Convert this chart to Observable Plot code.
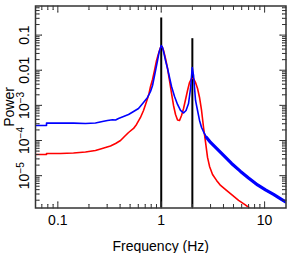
<!DOCTYPE html>
<html><head><meta charset="utf-8">
<script src="https://cdn.jsdelivr.net/npm/d3@7"></script>
<script src="https://cdn.jsdelivr.net/npm/@observablehq/plot@0.6"></script>
<style>html,body{margin:0;padding:0;background:#fff;} svg{display:block;}</style>
</head><body><div id="chart"></div>
<script>
const blueFreq = [0.0608, 0.0777, 0.0777, 0.0949, 0.1417, 0.185, 0.231, 0.270, 0.302, 0.338, 0.362, 0.386, 0.432, 0.483, 0.540, 0.603, 0.674, 0.737, 0.788, 0.824, 0.881, 0.921, 0.952, 1.0, 1.029, 1.064, 1.100, 1.151, 1.203, 1.258, 1.345, 1.438, 1.537, 1.644, 1.738, 1.837, 1.921, 1.995, 2.054, 2.147, 2.245, 2.347, 2.455, 2.584, 2.744, 3.0, 3.43, 4.01, 4.79, 5.85, 6.99, 8.55, 10.2, 12.2, 14.3, 16.1];
const bluePower = [2.68e-4, 2.68e-4, 3.12e-4, 3.12e-4, 3.12e-4, 3.05e-4, 3.15e-4, 3.48e-4, 3.72e-4, 3.89e-4, 3.84e-4, 4.24e-4, 4.83e-4, 5.51e-4, 6.7e-4, 8.16e-4, 1.21e-3, 1.68e-3, 2.48e-3, 3.68e-3, 9.84e-3, 0.0189, 0.032, 0.0506, 0.0444, 0.030, 0.0189, 0.0112, 6.22e-3, 3.45e-3, 1.79e-3, 1.06e-3, 7.16e-4, 6.08e-4, 7.16e-4, 1.13e-3, 3.03e-3, 0.01197, 7.1e-3, 1.38e-3, 7.16e-4, 3.72e-4, 2.35e-4, 1.69e-4, 1.22e-4, 8.8e-5, 5.94e-5, 3.76e-5, 2.22e-5, 1.32e-5, 8.6e-6, 5.43e-6, 3.92e-6, 2.92e-6, 2.17e-6, 1.75e-6];

const redFreq = [0.0608, 0.0777, 0.0777, 0.106, 0.1417, 0.185, 0.231, 0.259, 0.289, 0.323, 0.362, 0.404, 0.441, 0.483, 0.540, 0.577, 0.630, 0.674, 0.705, 0.737, 0.762, 0.788, 0.824, 0.861, 0.901, 0.942, 0.984, 1.018, 1.053, 1.100, 1.151, 1.203, 1.258, 1.315, 1.375, 1.438, 1.503, 1.572, 1.644, 1.719, 1.797, 1.878, 1.964, 2.054, 2.147, 2.245, 2.347, 2.455, 2.566, 2.684, 2.805, 2.934, 3.136, 3.43, 3.75, 4.28, 4.90, 5.60, 6.40, 7.15, 7.64];
const redPower = [4.01e-5, 4.01e-5, 4.28e-5, 4.28e-5, 4.42e-5, 4.72e-5, 5.21e-5, 5.75e-5, 6.34e-5, 7.0e-5, 8.24e-5, 1.0e-4, 1.30e-4, 1.69e-4, 2.2e-4, 2.86e-4, 4.53e-4, 7.16e-4, 1.06e-3, 1.57e-3, 2.18e-3, 3.45e-3, 5.46e-3, 9.84e-3, 0.0189, 0.030, 0.0444, 0.0474, 0.0365, 0.0216, 0.0112, 5.1e-3, 2.18e-3, 9.93e-4, 5.51e-4, 3.85e-4, 3.72e-4, 5.16e-4, 8.16e-4, 1.47e-3, 2.65e-3, 4.48e-3, 5.82e-3, 5.82e-3, 4.48e-3, 3.03e-3, 1.68e-3, 7.16e-4, 2.35e-4, 8.8e-5, 3.3e-5, 1.83e-5, 1.08e-5, 7.31e-6, 5.26e-6, 3.79e-6, 2.73e-6, 1.97e-6, 1.52e-6, 1.2e-6, 1.02e-6];

const lineFreq = [1, 2];
const linePower = [0.307, 0.079];

const xTickValues = [0.1, 1, 10];
const xTickLabels = ["0.1", "1", "10"];
const yTickValues = [0.1, 0.01, 1e-3, 1e-4, 1e-5];
const yTickLabels = ["0.1", "0.01", "10^-3", "10^-4", "10^-5"];
const xLabel = "Frequency (Hz)";
const yLabel = "Power";

const xDomain = [0.0608, 16.1];
const yDomain = [1.2e-6, 0.673];

// minor tick positions (axis decoration)
const mult = [2, 3, 4, 5, 6, 7, 8, 9];
const xMinor = [];
for (const d of [0.01, 0.1, 1, 10]) for (const m of mult) { const v = d * m; if (v > xDomain[0] && v < xDomain[1]) xMinor.push(v); }
const yMinor = [];
for (const d of [1e-6, 1e-5, 1e-4, 1e-3, 1e-2, 1e-1]) for (const m of mult) { const v = d * m; if (v > yDomain[0] && v < yDomain[1]) yMinor.push(v); }

const blue = blueFreq.map((f, i) => ({f, p: bluePower[i]}));
const red = redFreq.map((f, i) => ({f, p: redPower[i]}));
const lines = lineFreq.map((f, i) => ({f, p: linePower[i]}));
const xt = xTickValues.map((v, i) => ({v, label: xTickLabels[i]}));
const yt = yTickValues.map((v, i) => ({v, label: yTickLabels[i]}));

const axisColor = "#333";
const font = "'Liberation Sans', Arial, Helvetica, sans-serif";

const tickMarks = (vals, len) => [
  Plot.vector(vals, {x: d => d, y: yDomain[0], length: len, rotate: 0, anchor: "start", r: 0, stroke: axisColor, strokeWidth: 1}),
  Plot.vector(vals, {x: d => d, y: yDomain[1], length: len, rotate: 180, anchor: "start", r: 0, stroke: axisColor, strokeWidth: 1})
];
const yTickMarks = (vals, len) => [
  Plot.vector(vals, {y: d => d, x: xDomain[0], length: len, rotate: 90, anchor: "start", r: 0, stroke: axisColor, strokeWidth: 1}),
  Plot.vector(vals, {y: d => d, x: xDomain[1], length: len, rotate: -90, anchor: "start", r: 0, stroke: axisColor, strokeWidth: 1})
];

const svg = Plot.plot({
  width: 287,
  height: 253,
  marginLeft: 35,
  marginRight: 1.5,
  marginTop: 5.5,
  marginBottom: 45.5,
  style: {fontFamily: font, fontSize: "14px", background: "#fff", color: "#000"},
  x: {type: "log", domain: xDomain, axis: null},
  y: {type: "log", domain: yDomain, axis: null},
  marks: [
    Plot.ruleX(lines, {x: "f", y1: yDomain[0], y2: "p", stroke: "#000", strokeWidth: 2}),
    Plot.line(red, {x: "f", y: "p", stroke: "#ff0000", strokeWidth: 1.6, clip: true}),
    Plot.line(blue.filter(d => d.f >= 2.7), {x: "f", y: "p", stroke: "#0000ff", strokeWidth: 3.2, clip: true}),
    Plot.line(blue, {x: "f", y: "p", stroke: "#0000ff", strokeWidth: 1.6, clip: true}),
    ...tickMarks(xTickValues, 6),
    ...tickMarks(xMinor, 3.5),
    ...yTickMarks(yTickValues, 6),
    ...yTickMarks(yMinor, 3.5),
    Plot.frame({stroke: axisColor, strokeWidth: 1.5}),
    Plot.text(xt, {x: "v", text: "label", frameAnchor: "bottom", lineAnchor: "bottom", dy: 16.5, fontSize: 14, fill: "#000"}),
    Plot.text([xLabel], {frameAnchor: "bottom", lineAnchor: "bottom", dy: 43, fontSize: 14, fill: "#000"}),
    Plot.text(yt, {y: "v", text: "label", frameAnchor: "left", rotate: -90, lineAnchor: "bottom", textAnchor: "middle", dx: -7, fontSize: 14, fill: "#000"}),
    Plot.text([yLabel], {frameAnchor: "left", rotate: -90, lineAnchor: "bottom", textAnchor: "middle", dx: -22, fontSize: 14, fill: "#000"})
  ]
});

d3.select(svg).selectAll("text").each(function() {
  const t = this.textContent;
  const m = /^10\^(.+)$/.exec(t);
  if (m) {
    const sel = d3.select(this);
    sel.text(null);
    sel.append("tspan").text("10");
    sel.append("tspan").attr("dy", "-0.42em").attr("font-size", "0.72em").text(m[1].replace("-", "\u2212"));
  }
});

document.getElementById("chart").appendChild(svg);
</script>
</body></html>
